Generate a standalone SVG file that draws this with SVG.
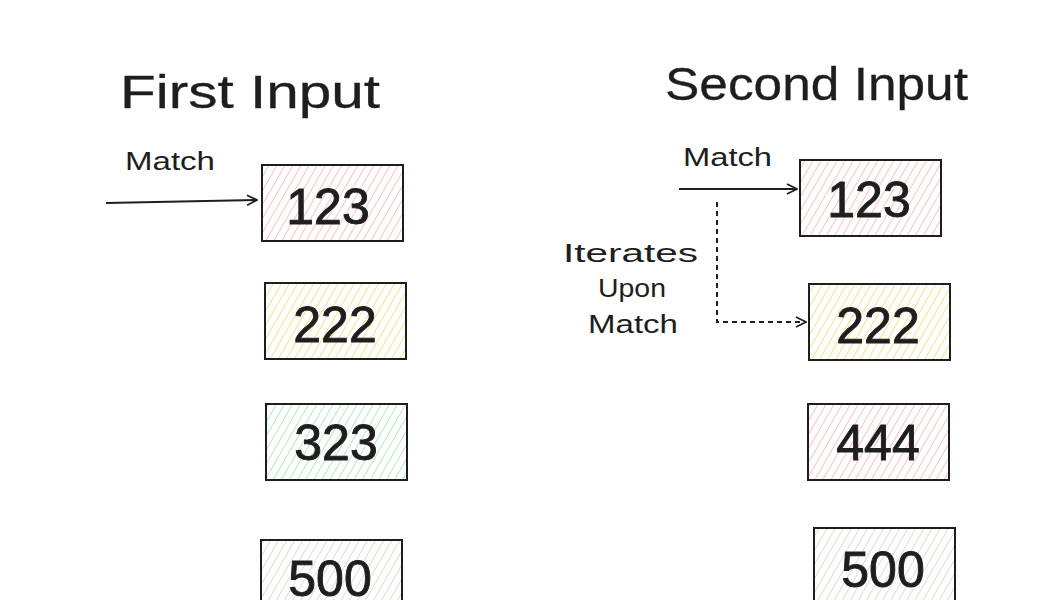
<svg xmlns="http://www.w3.org/2000/svg" width="1058" height="600" viewBox="0 0 1058 600">
<style>
.title{font-family:"Liberation Sans",Arial,sans-serif;font-size:46px;fill:#1e1e1e;stroke:#1e1e1e;stroke-width:0.3}
.num{font-family:"Liberation Sans",Arial,sans-serif;font-size:50px;fill:#1e1e1e;text-anchor:middle;stroke:#1e1e1e;stroke-width:0.9}
.lbl{font-family:"Liberation Sans",Arial,sans-serif;font-size:26px;fill:#1e1e1e}
.box{stroke:#1e1e1e;stroke-width:2}
.conn{stroke:#1e1e1e;stroke-width:2;fill:none}
</style>
<defs>
<pattern id="hRed" width="7" height="7" patternUnits="userSpaceOnUse" patternTransform="rotate(30)"><line x1="0" y1="0" x2="0" y2="7" stroke="#ff8787" stroke-width="1"/></pattern>
<pattern id="hYel" width="7" height="7" patternUnits="userSpaceOnUse" patternTransform="rotate(30)"><line x1="0" y1="0" x2="0" y2="7" stroke="#fcc419" stroke-width="1"/></pattern>
<pattern id="hGrn" width="7" height="7" patternUnits="userSpaceOnUse" patternTransform="rotate(30)"><line x1="0" y1="0" x2="0" y2="7" stroke="#69db7c" stroke-width="1"/></pattern>
<pattern id="hGry" width="7" height="7" patternUnits="userSpaceOnUse" patternTransform="rotate(30)"><line x1="0" y1="0" x2="0" y2="7" stroke="#c9b8a8" stroke-width="1"/></pattern>
<marker id="arr" viewBox="0 0 12 12" refX="11" refY="6" markerWidth="12" markerHeight="12" markerUnits="userSpaceOnUse" orient="auto"><path d="M1,1 L11,6 L1,11" fill="none" stroke="#1e1e1e" stroke-width="1.8"/></marker>
</defs>
<rect width="1058" height="600" fill="#ffffff"/>
<g id="titles">
<text class="title" x="120" y="108" textLength="260" lengthAdjust="spacingAndGlyphs">First Input</text>
<text class="title" x="665" y="100" textLength="303" lengthAdjust="spacingAndGlyphs">Second Input</text>
</g>
<g id="connectors">
<path class="conn" d="M106,203 L257,200" marker-end="url(#arr)"/>
<path class="conn" d="M679,189 L797,189" marker-end="url(#arr)"/>
<path class="conn" d="M717,202 L717,322 L806,322" stroke-dasharray="5,4" stroke-width="1.6" marker-end="url(#arr)"/>
<text class="lbl" x="125" y="170" textLength="90" lengthAdjust="spacingAndGlyphs">Match</text>
<text class="lbl" x="683" y="166" textLength="89" lengthAdjust="spacingAndGlyphs">Match</text>
<text class="lbl" x="563" y="262" textLength="135" lengthAdjust="spacingAndGlyphs">Iterates</text>
<text class="lbl" x="598" y="297" textLength="68" lengthAdjust="spacingAndGlyphs">Upon</text>
<text class="lbl" x="588" y="333" textLength="90" lengthAdjust="spacingAndGlyphs">Match</text>
</g>
<g id="l123"><rect class="box" x="262" y="165" width="141" height="76" fill="url(#hRed)"/><text class="num" x="328" y="224">123</text></g>
<g id="l222"><rect class="box" x="265" y="283" width="141" height="76" fill="url(#hYel)"/><text class="num" x="335" y="342">222</text></g>
<g id="l323"><rect class="box" x="266" y="404" width="141" height="76" fill="url(#hGrn)"/><text class="num" x="336" y="460">323</text></g>
<g id="l500"><rect class="box" x="261" y="540" width="141" height="76" fill="url(#hGry)"/><text class="num" x="330" y="596">500</text></g>
<g id="r123"><rect class="box" x="800" y="160" width="141" height="76" fill="url(#hRed)"/><text class="num" x="869" y="217">123</text></g>
<g id="r222"><rect class="box" x="809" y="284" width="141" height="76" fill="url(#hYel)"/><text class="num" x="878" y="343">222</text></g>
<g id="r444"><rect class="box" x="808" y="404" width="141" height="76" fill="url(#hRed)"/><text class="num" x="878" y="460">444</text></g>
<g id="r500"><rect class="box" x="814" y="528" width="141" height="76" fill="url(#hGry)"/><text class="num" x="883" y="587">500</text></g>
</svg>
